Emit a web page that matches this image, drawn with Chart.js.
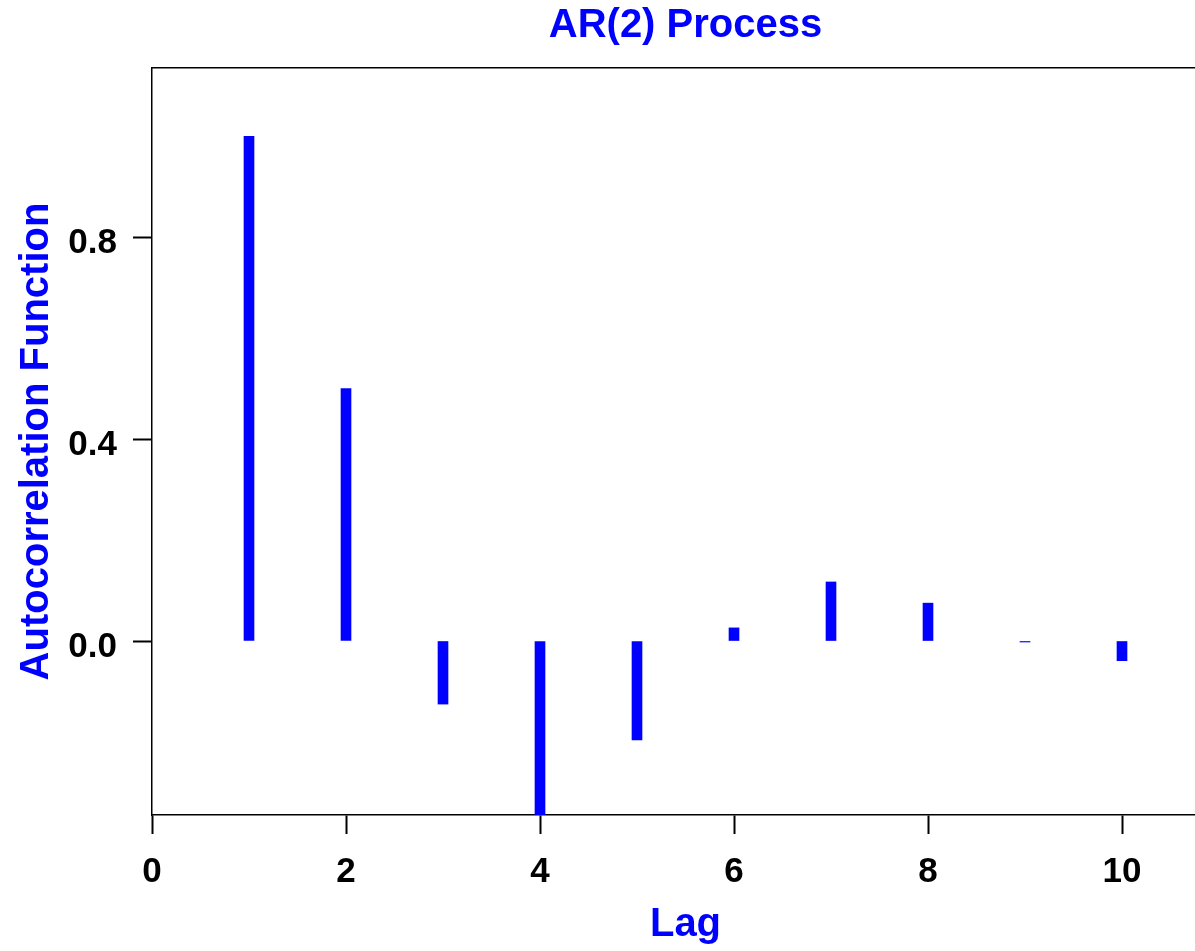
<!DOCTYPE html>
<html>
<head>
<meta charset="utf-8">
<title>AR(2) Process</title>
<script src="https://cdn.jsdelivr.net/npm/chart.js@4.4.1/dist/chart.umd.min.js"></script>
<style>
  html, body { margin: 0; padding: 0; background: #fff; overflow: hidden; }
  #wrap { width: 1219px; height: 951px; }
</style>
</head>
<body>
<div id="wrap"><canvas id="acf" width="1219" height="951"></canvas></div>
<script>
// lags and autocorrelation values
const lags = [1, 2, 3, 4, 5, 6, 7, 8, 9, 10];
const acfValues = [1.0, 0.5, -0.125, -0.344, -0.196, 0.026, 0.117, 0.075, -0.002, -0.039];
const xTicks = [0, 2, 4, 6, 8, 10];
const yTicks = [0.0, 0.4, 0.8];

const BLUE = '#0000ff';
const FONT = "'Liberation Sans', Arial, Helvetica, sans-serif";

const points = lags.map((l, i) => ({ x: l, y: acfValues[i] }));

new Chart(document.getElementById('acf'), {
  type: 'bar',
  data: {
    datasets: [{
      label: 'ACF',
      data: points,
      backgroundColor: BLUE,
      borderWidth: 0,
      barThickness: 10,
      grouped: false,
    }],
  },
  options: {
    responsive: false,
    animation: false,
    layout: { padding: 0 },
    plugins: { legend: { display: false }, tooltip: { enabled: false }, title: { display: false } },
    scales: {
      x: {
        type: 'linear',
        position: 'bottom',
        offset: false,
        min: 0,
        max: 11,
        afterBuildTicks: s => { s.ticks = xTicks.map(v => ({ value: v })); },
        afterFit: s => { s.height = 136; },
        grid: { offset: false, drawOnChartArea: false, drawTicks: true, tickLength: 19, tickWidth: 2, tickColor: '#000' },
        border: { display: true, color: '#000', width: 1.5 },
        ticks: { color: '#000', padding: 17, font: { family: FONT, size: 35, weight: 'bold' } },
        title: { display: true, text: 'Lag', color: BLUE, padding: { top: 0, bottom: 2 },
                 font: { family: FONT, size: 40, weight: 'bold' } },
      },
      x2: {
        type: 'linear',
        position: 'top',
        offset: false,
        min: 0,
        max: 11,
        afterFit: s => { s.height = 68; },
        grid: { display: true, offset: false, drawOnChartArea: false, drawTicks: false },
        border: { display: true, color: '#000', width: 1.5 },
        ticks: { display: false },
        title: { display: true, text: 'AR(2) Process', color: BLUE, padding: { top: 2, bottom: 0 },
                 font: { family: FONT, size: 40, weight: 'bold' } },
      },
      y: {
        type: 'linear',
        position: 'left',
        min: -0.3448,
        max: 1.1355,
        afterBuildTicks: s => { s.ticks = yTicks.map(v => ({ value: v })); },
        afterFit: s => { s.width = 152; },
        grid: { drawOnChartArea: false, drawTicks: true, tickLength: 19, tickWidth: 2, tickColor: '#000' },
        border: { display: true, color: '#000', width: 1.5 },
        ticks: { color: '#000', padding: 16, labelOffset: 6, callback: v => Number(v).toFixed(1),
                 font: { family: FONT, size: 35, weight: 'bold' } },
        title: { display: true, text: 'Autocorrelation Function', color: BLUE, padding: { top: 13, bottom: 0 },
                 font: { family: FONT, size: 40, weight: 'bold' } },
      },
    },
  },
});
</script>
</body>
</html>
